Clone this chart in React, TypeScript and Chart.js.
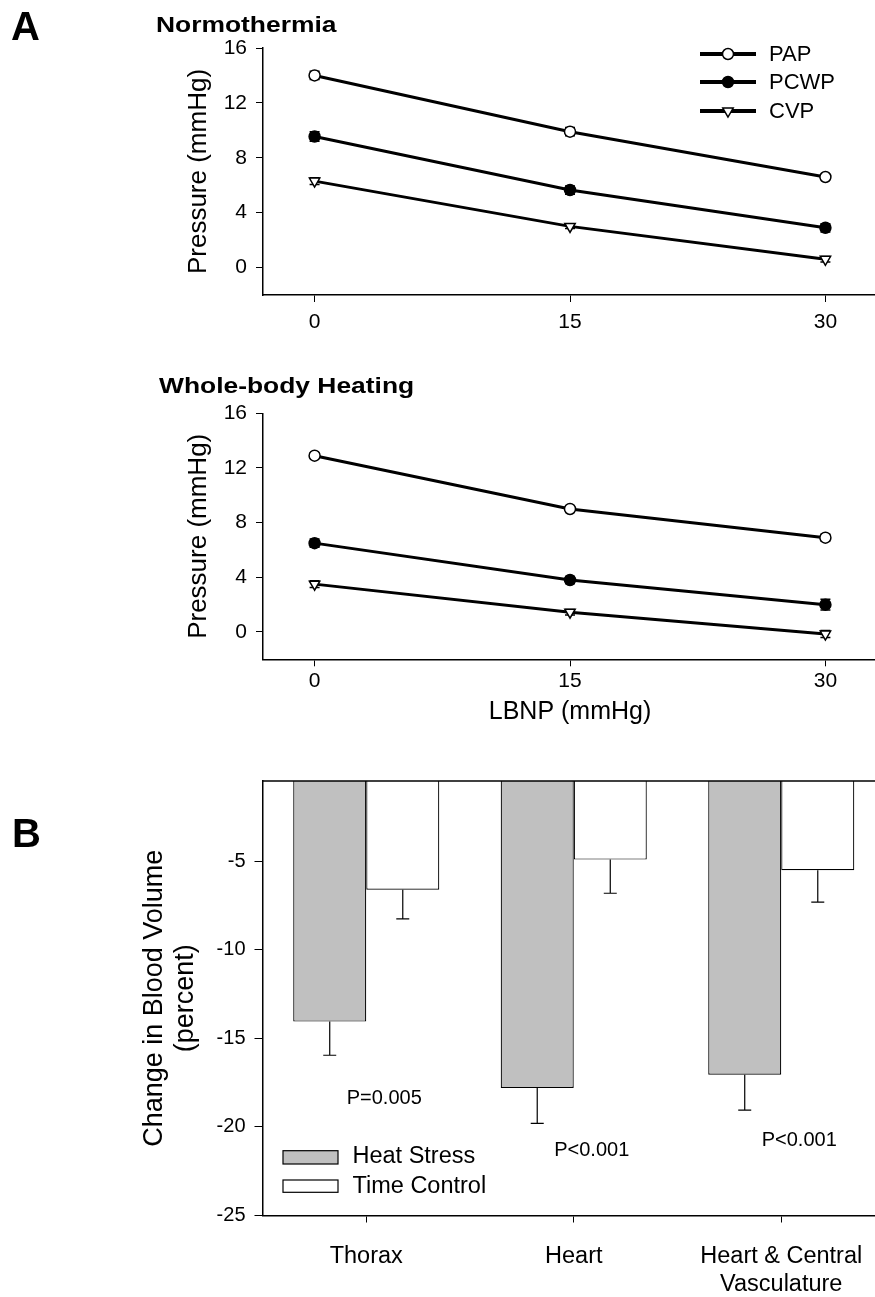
import React, { useEffect, useRef } from "react";
import { Chart, registerables } from "chart.js";

Chart.register(...registerables);

const FONT = '"Liberation Sans", Arial, Helvetica, sans-serif';
Chart.defaults.font.family = FONT;
Chart.defaults.color = "#000";

// ---------- Panel A data ----------
const lbnpLevels = [0, 15, 30];
const lbnpTicks = [0, 15, 30];
const pressureTicks = [0, 4, 8, 12, 16];
const seriesLabels = ["PAP", "PCWP", "CVP"];

const normoPAP = [14.0, 9.9, 6.6];
const normoPCWP = [9.55, 5.65, 2.9];
const normoCVP = [6.3, 3.0, 0.6];
const normoPAPErr = [0.3, 0.3, 0.2];
const normoPCWPErr = [0.35, 0.3, 0.3];
const normoCVPErr = [0.25, 0.15, 0.2];

const heatPAP = [12.9, 9.0, 6.9];
const heatPCWP = [6.5, 3.8, 2.0];
const heatCVP = [3.5, 1.45, -0.15];
const heatPAPErr = [0.2, 0.2, 0.25];
const heatPCWPErr = [0.3, 0.25, 0.4];
const heatCVPErr = [0.25, 0.2, 0.25];

// ---------- Panel B data ----------
const regions = ["Thorax", "Heart", ["Heart & Central", "Vasculature"]];
const barSeriesLabels = ["Heat Stress", "Time Control"];
const heatStress = [-14.05, -17.8, -17.05];
const heatStressErr = [1.9, 2.0, 2.0];
const timeControl = [-6.6, -4.9, -5.5];
const timeControlErr = [1.65, 1.9, 1.8];
const pValues = ["P=0.005", "P<0.001", "P<0.001"];
const pValueY = [-18.4, -21.3, -20.75];
const volumeTicks = [-5, -10, -15, -20, -25];

// ---------- styles ----------
const markerStyles = [
  { pointStyle: "circle", fill: "#fff", radius: 5.5, rotation: 0 },
  { pointStyle: "circle", fill: "#000", radius: 5.5, rotation: 0 },
  { pointStyle: "triangle", fill: "#fff", radius: 6, rotation: 180 },
];

function drawMarker(ctx: CanvasRenderingContext2D, style: any, x: number, y: number) {
  ctx.save();
  ctx.fillStyle = style.fill;
  ctx.strokeStyle = "#000";
  ctx.lineWidth = 1.5;
  ctx.beginPath();
  if (style.pointStyle === "circle") {
    ctx.arc(x, y, style.radius, 0, Math.PI * 2);
  } else {
    let rad = (style.rotation * Math.PI) / 180;
    const r = style.radius;
    ctx.moveTo(x + Math.sin(rad) * r, y - Math.cos(rad) * r);
    rad += (2 * Math.PI) / 3;
    ctx.lineTo(x + Math.sin(rad) * r, y - Math.cos(rad) * r);
    rad += (2 * Math.PI) / 3;
    ctx.lineTo(x + Math.sin(rad) * r, y - Math.cos(rad) * r);
    ctx.closePath();
  }
  ctx.fill();
  ctx.stroke();
  ctx.restore();
}

type LineSpec = {
  width: number;
  height: number;
  areaTop: number;
  areaBottom: number;
  title: string;
  titleX: number;
  titleBaseline: number;
  letter?: string;
  values: number[][];
  errors: number[][];
  legend: boolean;
  xTitle?: string;
  xTitleY?: number;
  tickPad: number;
};

function makeLineConfig(spec: LineSpec): any {
  const plugin = {
    id: "panelADecor",
    beforeDatasetsDraw(chart: any) {
      const { ctx } = chart;
      const xs = chart.scales.x;
      const ys = chart.scales.y;
      ctx.save();
      ctx.strokeStyle = "#000";
      ctx.lineWidth = 1.5;
      chart.data.datasets.forEach((ds: any) => {
        const errs = ds.errorValues as number[];
        ds.data.forEach((pt: any, i: number) => {
          const x = xs.getPixelForValue(pt.x);
          const y1 = ys.getPixelForValue(pt.y + errs[i]);
          const y2 = ys.getPixelForValue(pt.y - errs[i]);
          ctx.beginPath();
          ctx.moveTo(x, y1);
          ctx.lineTo(x, y2);
          ctx.moveTo(x - 5, y1);
          ctx.lineTo(x + 5, y1);
          ctx.moveTo(x - 5, y2);
          ctx.lineTo(x + 5, y2);
          ctx.stroke();
        });
      });
      ctx.restore();
    },
    afterDraw(chart: any) {
      const { ctx, chartArea } = chart;
      ctx.save();
      ctx.fillStyle = "#000";
      ctx.save();
      ctx.font = `bold 22px ${FONT}`;
      ctx.textAlign = "left";
      ctx.textBaseline = "alphabetic";
      ctx.translate(spec.titleX, spec.titleBaseline);
      ctx.scale(1.2, 1);
      ctx.fillText(spec.title, 0, 0);
      ctx.restore();
      if (spec.letter) {
        ctx.font = `bold 40px ${FONT}`;
        ctx.textAlign = "left";
        ctx.textBaseline = "alphabetic";
        ctx.fillText(spec.letter, 11, 40);
      }
      ctx.save();
      ctx.font = `26px ${FONT}`;
      ctx.textAlign = "center";
      ctx.textBaseline = "middle";
      ctx.translate(199, (chartArea.top + chartArea.bottom) / 2);
      ctx.rotate(-Math.PI / 2);
      ctx.fillText("Pressure (mmHg)", 0, 0);
      ctx.restore();
      if (spec.xTitle) {
        const xs = chart.scales.x;
        ctx.font = `25px ${FONT}`;
        ctx.textAlign = "center";
        ctx.textBaseline = "middle";
        const cx = (xs.getPixelForValue(lbnpTicks[0]) + xs.getPixelForValue(lbnpTicks[lbnpTicks.length - 1])) / 2;
        ctx.fillText(spec.xTitle, cx, spec.xTitleY);
      }
      if (spec.legend) {
        const rows = [54, 82, 111];
        chart.data.datasets.forEach((ds: any, i: number) => {
          const y = rows[i];
          ctx.strokeStyle = "#000";
          ctx.lineWidth = 4;
          ctx.beginPath();
          ctx.moveTo(700, y);
          ctx.lineTo(756, y);
          ctx.stroke();
          drawMarker(ctx, markerStyles[i], 728, y);
          ctx.fillStyle = "#000";
          ctx.font = `22px ${FONT}`;
          ctx.textAlign = "left";
          ctx.textBaseline = "middle";
          ctx.fillText(ds.label, 769, y + 1);
        });
      }
      ctx.restore();
    },
  };

  const datasets = seriesLabels.map((label, si) => ({
    label,
    data: lbnpLevels.map((x, i) => ({ x, y: spec.values[si][i] })),
    errorValues: spec.errors[si],
    borderColor: "#000",
    borderWidth: 3,
    tension: 0,
    pointStyle: markerStyles[si].pointStyle,
    pointRotation: markerStyles[si].rotation,
    pointRadius: markerStyles[si].radius,
    pointBackgroundColor: markerStyles[si].fill,
    pointBorderColor: "#000",
    pointBorderWidth: 1.5,
  }));

  const axisCommon = {
    grid: { drawOnChartArea: false, drawTicks: true, tickLength: 7, color: "#000", lineWidth: 1 },
    border: { display: true, color: "#000", width: 1.5 },
  };

  return {
    type: "line",
    data: { datasets },
    options: {
      responsive: false,
      animation: false,
      layout: { padding: { top: spec.areaTop, left: 0, right: 2.5, bottom: 0 } },
      plugins: { legend: { display: false }, tooltip: { enabled: false }, title: { display: false } },
      scales: {
        x: {
          type: "linear",
          min: -3.03,
          max: 33,
          ...axisCommon,
          afterBuildTicks: (s: any) => {
            s.ticks = lbnpTicks.map((v) => ({ value: v }));
          },
          afterFit: (s: any) => {
            s.height = spec.height - spec.areaBottom;
          },
          ticks: { font: { size: 21 }, color: "#000", padding: spec.tickPad, maxRotation: 0, autoSkip: false },
        },
        y: {
          type: "linear",
          min: -2,
          max: 16,
          ...axisCommon,
          afterBuildTicks: (s: any) => {
            s.ticks = pressureTicks.map((v) => ({ value: v }));
          },
          afterFit: (s: any) => {
            s.width = 263;
          },
          ticks: { font: { size: 21 }, color: "#000", padding: 9 },
        },
      },
    },
    plugins: [plugin],
  };
}

function makeBarConfig(): any {
  const plugin = {
    id: "panelBDecor",
    afterDatasetsDraw(chart: any) {
      const { ctx, chartArea } = chart;
      const ys = chart.scales.y;
      ctx.save();
      ctx.strokeStyle = "#000";
      ctx.lineWidth = 1.2;
      chart.data.datasets.forEach((ds: any, di: number) => {
        const meta = chart.getDatasetMeta(di);
        ds.data.forEach((v: number, i: number) => {
          const x = meta.data[i].x;
          const y1 = ys.getPixelForValue(v);
          const y2 = ys.getPixelForValue(v - ds.errorValues[i]);
          ctx.beginPath();
          ctx.moveTo(x, y1);
          ctx.lineTo(x, y2);
          ctx.moveTo(x - 6.5, y2);
          ctx.lineTo(x + 6.5, y2);
          ctx.stroke();
        });
      });
      ctx.lineWidth = 1.5;
      ctx.beginPath();
      ctx.moveTo(chartArea.left, chartArea.top);
      ctx.lineTo(chartArea.right, chartArea.top);
      ctx.stroke();
      ctx.restore();
    },
    afterDraw(chart: any) {
      const { ctx, chartArea } = chart;
      const xs = chart.scales.x;
      const ys = chart.scales.y;
      ctx.save();
      ctx.fillStyle = "#000";
      ctx.font = `20px ${FONT}`;
      ctx.textAlign = "center";
      ctx.textBaseline = "middle";
      pValues.forEach((p, i) => {
        ctx.fillText(p, xs.getPixelForValue(i) + 18, ys.getPixelForValue(pValueY[i]));
      });
      const boxes = [
        { top: 390.7, h: 13.3, textY: 397 },
        { top: 420, h: 12.3, textY: 426.5 },
      ];
      chart.data.datasets.forEach((ds: any, i: number) => {
        const b = boxes[i];
        ctx.fillStyle = ds.backgroundColor;
        ctx.fillRect(283, b.top, 55, b.h);
        ctx.strokeStyle = "#000";
        ctx.lineWidth = 1.2;
        ctx.strokeRect(283, b.top, 55, b.h);
        ctx.fillStyle = "#000";
        ctx.font = `23.5px ${FONT}`;
        ctx.textAlign = "left";
        ctx.textBaseline = "middle";
        ctx.fillText(ds.label, 352.5, b.textY);
      });
      ctx.save();
      ctx.font = `27px ${FONT}`;
      ctx.textAlign = "center";
      ctx.textBaseline = "middle";
      ctx.translate(0, (chartArea.top + chartArea.bottom) / 2);
      ctx.rotate(-Math.PI / 2);
      ctx.fillText("Change in Blood Volume", 0, 155);
      ctx.fillText("(percent)", 0, 186);
      ctx.restore();
      ctx.font = `bold 40px ${FONT}`;
      ctx.textAlign = "left";
      ctx.textBaseline = "alphabetic";
      ctx.fillText("B", 12, 87);
      ctx.restore();
    },
  };

  const axisCommon = {
    border: { display: true, color: "#000", width: 1.5 },
  };

  return {
    type: "bar",
    data: {
      labels: regions,
      datasets: [
        {
          label: barSeriesLabels[0],
          data: heatStress,
          errorValues: heatStressErr,
          backgroundColor: "#c0c0c0",
          borderColor: "#000",
          borderWidth: 1.2,
          borderSkipped: false,
          categoryPercentage: 0.704,
          barPercentage: 1,
        },
        {
          label: barSeriesLabels[1],
          data: timeControl,
          errorValues: timeControlErr,
          backgroundColor: "#ffffff",
          borderColor: "#000",
          borderWidth: 1.2,
          borderSkipped: false,
          categoryPercentage: 0.704,
          barPercentage: 1,
        },
      ],
    },
    options: {
      responsive: false,
      animation: false,
      layout: { padding: { top: 19.5, left: 0, right: 2, bottom: 0 } },
      plugins: { legend: { display: false }, tooltip: { enabled: false }, title: { display: false } },
      scales: {
        x: {
          ...axisCommon,
          grid: { drawOnChartArea: false, drawTicks: true, tickLength: 7, color: "#000", offset: false },
          afterFit: (s: any) => {
            s.height = 81.5;
          },
          ticks: { font: { size: 23.5 }, color: "#000", padding: 20, maxRotation: 0, autoSkip: false },
        },
        y: {
          ...axisCommon,
          min: -25,
          max: -0.46,
          grid: { drawOnChartArea: false, drawTicks: true, tickLength: 8, color: "#000" },
          afterBuildTicks: (s: any) => {
            s.ticks = volumeTicks.map((v) => ({ value: v }));
          },
          afterFit: (s: any) => {
            s.width = 262.5;
          },
          ticks: { font: { size: 20 }, color: "#000", padding: 9 },
        },
      },
    },
    plugins: [plugin],
  };
}

const normoSpec: LineSpec = {
  width: 884,
  height: 340,
  areaTop: 48,
  areaBottom: 295,
  title: "Normothermia",
  titleX: 156,
  titleBaseline: 31.5,
  letter: "A",
  values: [normoPAP, normoPCWP, normoCVP],
  errors: [normoPAPErr, normoPCWPErr, normoCVPErr],
  legend: true,
  tickPad: 8,
};

const heatSpec: LineSpec = {
  width: 884,
  height: 380,
  areaTop: 53.3,
  areaBottom: 299.3,
  title: "Whole-body Heating",
  titleX: 159,
  titleBaseline: 33.3,
  values: [heatPAP, heatPCWP, heatCVP],
  errors: [heatPAPErr, heatPCWPErr, heatCVPErr],
  legend: false,
  xTitle: "LBNP (mmHg)",
  xTitleY: 352,
  tickPad: 2,
};

export default function App() {
  const c1 = useRef<HTMLCanvasElement>(null);
  const c2 = useRef<HTMLCanvasElement>(null);
  const c3 = useRef<HTMLCanvasElement>(null);

  useEffect(() => {
    document.body.style.margin = "0";
    const charts = [
      new Chart(c1.current!, makeLineConfig(normoSpec)),
      new Chart(c2.current!, makeLineConfig(heatSpec)),
      new Chart(c3.current!, makeBarConfig()),
    ];
    return () => charts.forEach((c) => c.destroy());
  }, []);

  return (
    <div style={{ position: "relative", width: 875, height: 1297, overflow: "hidden", background: "#fff" }}>
      <canvas ref={c1} width={884} height={340} style={{ position: "absolute", left: 0, top: 0 }} />
      <canvas ref={c2} width={884} height={380} style={{ position: "absolute", left: 0, top: 360 }} />
      <canvas ref={c3} width={887} height={537} style={{ position: "absolute", left: 0, top: 760 }} />
    </div>
  );
}
